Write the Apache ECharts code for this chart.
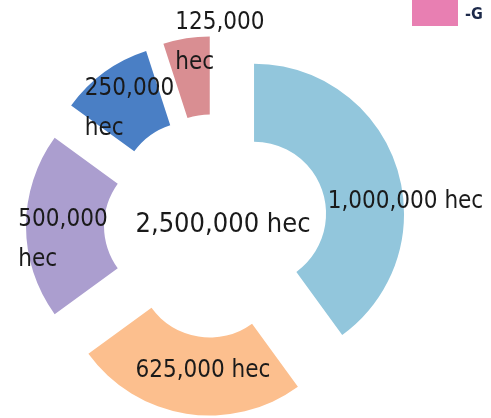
<!DOCTYPE html>
<html>
<head>
    <meta charset="utf-8">
    <title>ECharts</title>
    <script src="https://cdn.jsdelivr.net/npm/echarts@6/dist/echarts.min.js"></script>
</head>
<body style="margin:0;background:#fff;">
    <div id="main" style="width: 491px;height:418px;"></div>
    <script type="text/javascript">
        // data
        var names = ['A', 'B', 'C', 'D', 'E'];
        var values = [1000000, 625000, 500000, 250000, 125000];
        var unit = 'hec';

        // look
        var colors = ['#92c6dc', '#fcbf8e', '#ab9ecf', '#4a7fc5', '#d98e92'];
        var twoLines = [false, false, true, true, true];
        var labelOffsets = [[43, 23], [11, -7], [1, 14], [4, 7], [28, -31]];
        var FONT = '"DejaVu Sans Condensed", "Liberation Sans Narrow", sans-serif';

        function fmt(v) {
            return v.toLocaleString('en-US');
        }

        var total = 0;
        values.forEach(function (v) { total += v; });

        var myChart = echarts.init(document.getElementById('main'));

        var data = values.map(function (v, i) {
            var txt = twoLines[i]
                ? '{a|' + fmt(v) + '}\n{a|' + unit + '}'
                : '{a|' + fmt(v) + ' ' + unit + '}';
            return {
                name: names[i],
                value: v,
                selected: true,
                itemStyle: { color: colors[i] },
                label: { formatter: txt }
            };
        });

        var option = {
            animation: false,
            graphic: [
                {
                    type: 'rect',
                    shape: { x: 412, y: -2, width: 46, height: 28 },
                    style: { fill: '#e87fb2' }
                },
                {
                    type: 'text',
                    x: 465, y: 15,
                    style: {
                        text: '-G',
                        fill: '#1d2a4a',
                        font: 'bold 16px ' + FONT,
                        textVerticalAlign: 'middle'
                    }
                },
                {
                    type: 'text',
                    x: 223, y: 225,
                    style: {
                        text: fmt(total) + ' ' + unit,
                        fill: '#1a1a1a',
                        font: '27px ' + FONT,
                        textAlign: 'center',
                        textVerticalAlign: 'middle'
                    }
                }
            ],
            series: [{
                type: 'pie',
                center: [216, 226],
                radius: [72, 150],
                startAngle: 90,
                clockwise: true,
                selectedMode: 'multiple',
                selectedOffset: 40,
                avoidLabelOverlap: false,
                label: {
                    show: true,
                    position: 'inside',
                    rich: {
                        a: {
                            align: 'left',
                            fontSize: 24,
                            lineHeight: 40,
                            color: '#1a1a1a',
                            fontFamily: FONT
                        }
                    }
                },
                labelLayout: function (params) {
                    var o = labelOffsets[params.dataIndex];
                    return { dx: o[0], dy: o[1] };
                },
                labelLine: { show: false },
                emphasis: { disabled: true },
                select: { itemStyle: { borderWidth: 0 } },
                data: data
            }]
        };

        myChart.setOption(option);
    </script>
</body>
</html>
